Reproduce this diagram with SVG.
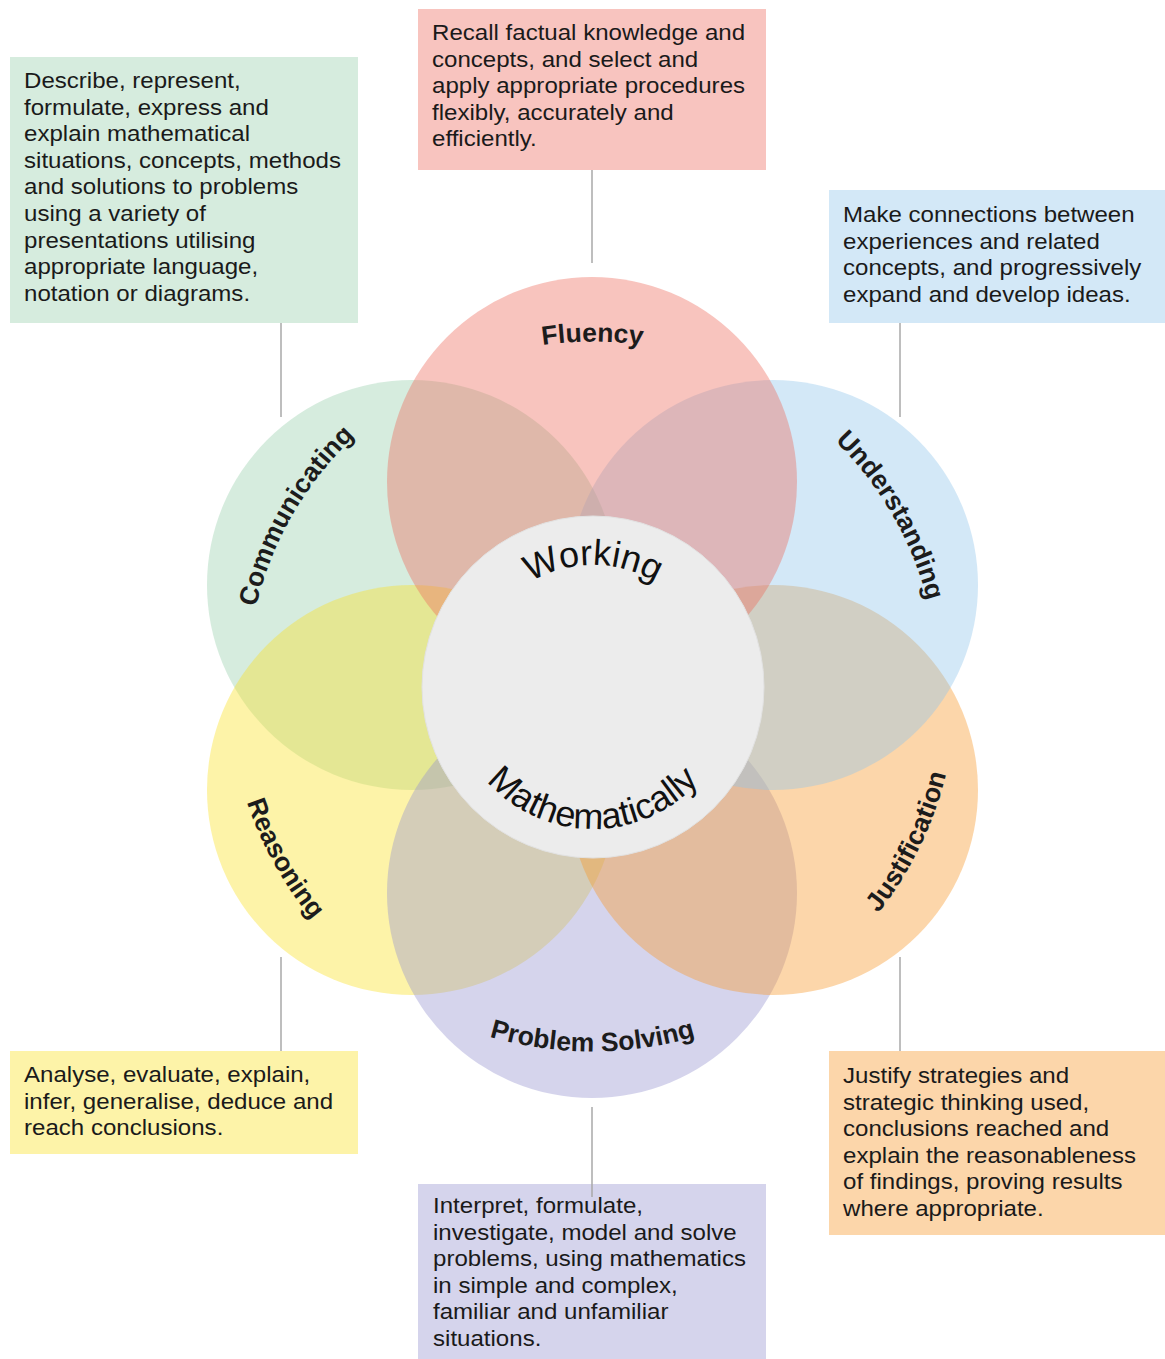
<svg xmlns="http://www.w3.org/2000/svg" width="1165" height="1359" viewBox="0 0 1165 1359">
<style>
.c{fill-opacity:0.4}
.lbl{font-family:"Liberation Sans",Arial,sans-serif;font-weight:bold;font-size:26.5px;fill:#1c1c1c}
.wm{font-family:"Liberation Sans",Arial,sans-serif;font-size:36px;fill:#111}
.desc{font-family:"Liberation Sans",Arial,sans-serif;font-size:21.5px;fill:#1a1a1a}
.conn{stroke:#a8a8a8;stroke-width:1.5;fill:none}
</style>
<defs>
<path id="p-flu" d="M370.1 422.5 A346 346 0 0 1 814.9 422.5"/>
<path id="p-com" d="M251.8 747.6 A346 346 0 0 1 474.2 362.4"/>
<path id="p-und" d="M710.8 362.4 A346 346 0 0 1 933.2 747.6"/>
<path id="p-rea" d="M234.0 624.3 A364 364 0 0 0 468.0 1029.6"/>
<path id="p-jus" d="M717.0 1029.6 A364 364 0 0 0 951.0 624.3"/>
<path id="p-ps" d="M358.5 966.3 A364 364 0 0 0 826.5 966.3"/>
<path id="p-work" d="M487.3 626 A122 122 0 0 1 698.7 626"/>
<path id="p-math" d="M459.6 735.6 A142 142 0 0 0 726.4 735.6"/>
</defs>
<rect width="1165" height="1359" fill="#ffffff"/>

<g id="communicating">
<circle class="c" cx="412" cy="585" r="205" fill="#98cfac"/>
<text class="lbl"><textPath href="#p-com" startOffset="50%" text-anchor="middle">Communicating</textPath></text>
</g>
<g id="reasoning">
<circle class="c" cx="412" cy="790" r="205" fill="#fae126"/>
<text class="lbl" transform="rotate(1 592.5 687.5)"><textPath href="#p-rea" startOffset="50%" text-anchor="middle">Reasoning</textPath></text>
</g>
<g id="problem-solving">
<circle class="c" cx="592" cy="893" r="205" fill="#9694d0"/>
<text class="lbl"><textPath href="#p-ps" startOffset="50%" text-anchor="middle">Problem Solving</textPath></text>
</g>
<g id="justification">
<circle class="c" cx="773" cy="790" r="205" fill="#f8992a"/>
<text class="lbl" transform="rotate(-4 592.5 687.5)"><textPath href="#p-jus" startOffset="50%" text-anchor="middle">Justification</textPath></text>
</g>
<g id="understanding">
<circle class="c" cx="773" cy="585" r="205" fill="#91c5eb"/>
<text class="lbl"><textPath href="#p-und" startOffset="50%" text-anchor="middle">Understanding</textPath></text>
</g>
<g id="fluency">
<circle class="c" cx="592" cy="482" r="205" fill="#ee6b5d"/>
<text class="lbl"><textPath href="#p-flu" startOffset="50%" text-anchor="middle">Fluency</textPath></text>
</g>

<g id="working-mathematically">
<circle cx="593" cy="687" r="171" fill="#ececec" stroke="#e2e2e2" stroke-width="1"/>
<text class="wm"><textPath href="#p-work" startOffset="50%" text-anchor="middle">Working</textPath></text>
<text class="wm"><textPath href="#p-math" startOffset="50%" text-anchor="middle">Mathematically</textPath></text>
</g>

<g id="fluency-desc">
<rect x="418" y="9" width="348" height="161" fill="#f8c4bf"/>
<text class="desc" transform="translate(432 40) scale(1.12 1)"><tspan x="0" y="0">Recall factual knowledge and</tspan><tspan x="0" y="26.6">concepts, and select and</tspan><tspan x="0" y="53.2">apply appropriate procedures</tspan><tspan x="0" y="79.8">flexibly, accurately and</tspan><tspan x="0" y="106.4">efficiently.</tspan></text>
</g>
<g id="communicating-desc">
<rect x="10" y="57" width="348" height="266" fill="#d6ecde"/>
<text class="desc" transform="translate(24 88) scale(1.12 1)"><tspan x="0" y="0">Describe, represent,</tspan><tspan x="0" y="26.6">formulate, express and</tspan><tspan x="0" y="53.2">explain mathematical</tspan><tspan x="0" y="79.8">situations, concepts, methods</tspan><tspan x="0" y="106.4">and solutions to problems</tspan><tspan x="0" y="133">using a variety of</tspan><tspan x="0" y="159.6">presentations utilising</tspan><tspan x="0" y="186.2">appropriate language,</tspan><tspan x="0" y="212.8">notation or diagrams.</tspan></text>
</g>
<g id="understanding-desc">
<rect x="829" y="190" width="336" height="133" fill="#d3e8f7"/>
<text class="desc" transform="translate(843 222) scale(1.12 1)"><tspan x="0" y="0">Make connections between</tspan><tspan x="0" y="26.6">experiences and related</tspan><tspan x="0" y="53.2">concepts, and progressively</tspan><tspan x="0" y="79.8">expand and develop ideas.</tspan></text>
</g>
<g id="reasoning-desc">
<rect x="10" y="1051" width="348" height="103" fill="#fdf3a8"/>
<text class="desc" transform="translate(24 1082) scale(1.12 1)"><tspan x="0" y="0">Analyse, evaluate, explain,</tspan><tspan x="0" y="26.6">infer, generalise, deduce and</tspan><tspan x="0" y="53.2">reach conclusions.</tspan></text>
</g>
<g id="justification-desc">
<rect x="829" y="1051" width="336" height="184" fill="#fcd6aa"/>
<text class="desc" transform="translate(843 1083) scale(1.12 1)"><tspan x="0" y="0">Justify strategies and</tspan><tspan x="0" y="26.6">strategic thinking used,</tspan><tspan x="0" y="53.2">conclusions reached and</tspan><tspan x="0" y="79.8">explain the reasonableness</tspan><tspan x="0" y="106.4">of findings, proving results</tspan><tspan x="0" y="133">where appropriate.</tspan></text>
</g>
<g id="problem-solving-desc">
<rect x="418" y="1184" width="348" height="175" fill="#d5d4ec"/>
<text class="desc" transform="translate(433 1213) scale(1.12 1)"><tspan x="0" y="0">Interpret, formulate,</tspan><tspan x="0" y="26.6">investigate, model and solve</tspan><tspan x="0" y="53.2">problems, using mathematics</tspan><tspan x="0" y="79.8">in simple and complex,</tspan><tspan x="0" y="106.4">familiar and unfamiliar</tspan><tspan x="0" y="133">situations.</tspan></text>
</g>

<g id="connectors">
<path class="conn" d="M592 170 V263"/>
<path class="conn" d="M281 323 V417"/>
<path class="conn" d="M900 323 V417"/>
<path class="conn" d="M281 957 V1051"/>
<path class="conn" d="M900 957 V1051"/>
<path class="conn" d="M592 1107 V1197"/>
</g>
</svg>
